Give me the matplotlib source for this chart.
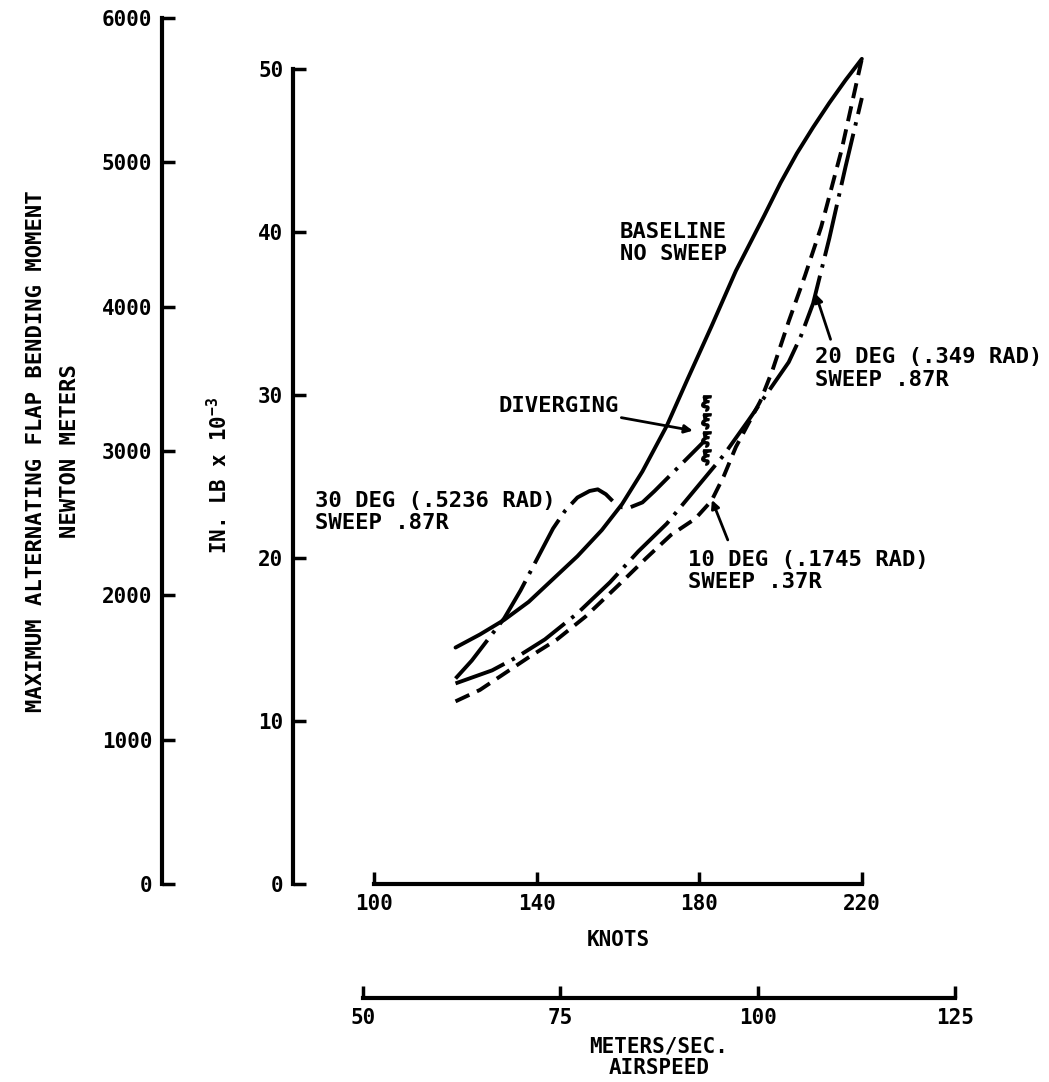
import numpy as np
import matplotlib
matplotlib.use("Agg")
import matplotlib.pyplot as plt
from matplotlib.transforms import blended_transform_factory

# --- values: airspeed in knots, moment in in-lb x 10^-3 ---
baseline_kn = [120, 126, 132, 138, 144, 150, 156, 161, 166, 172, 177, 183, 189, 196, 200, 204, 208, 212, 216, 220]
baseline_val = [14.5, 15.3, 16.2, 17.3, 18.7, 20.1, 21.7, 23.3, 25.3, 28.1, 30.9, 34.2, 37.6, 41.0, 43.0, 44.8, 46.4, 47.9, 49.3, 50.6]

sweep30_kn = [120, 124, 128, 132, 136, 140, 144, 147, 150, 153, 155, 157, 159, 161, 163, 166, 169, 173, 177, 181]
sweep30_val = [12.6, 13.7, 15.0, 16.3, 18.0, 19.9, 21.8, 22.9, 23.7, 24.1, 24.2, 23.9, 23.4, 23.1, 23.1, 23.4, 24.1, 25.1, 26.1, 27.1]

sweep20_kn = [120, 129, 135, 142, 150, 158, 165, 172, 179, 186, 192, 197, 202, 205, 208, 212, 216, 220]
sweep20_val = [12.3, 13.1, 13.9, 15.0, 16.6, 18.5, 20.4, 22.1, 24.2, 26.3, 28.4, 30.2, 32.0, 33.6, 35.6, 39.6, 44.0, 48.2]

sweep10_kn = [120, 126, 132, 138, 145, 152, 160, 167, 173, 179, 183, 186, 189, 195, 198, 202, 206, 210, 215, 220]
sweep10_val = [11.2, 11.9, 12.9, 13.9, 15.0, 16.4, 18.3, 20.0, 21.4, 22.4, 23.5, 25.0, 26.8, 29.6, 31.5, 34.5, 37.3, 40.3, 45.0, 50.6]

diverging_kn = 181.6
diverging_val = [26.2, 27.3, 28.4, 29.5]

knots_ticks = [100, 140, 180, 220]
ms_ticks = [50, 75, 100, 125]
inlb_ticks = [0, 10, 20, 30, 40, 50]
nm_ticks = [0, 1000, 2000, 3000, 4000, 5000, 6000]

KN_TO_MS = 0.51444
KINLB_TO_NM = 112.985

plt.rcParams['font.family'] = ['DejaVu Sans Mono']
plt.rcParams['font.weight'] = 'bold'
plt.rcParams['axes.labelweight'] = 'bold'
plt.rcParams['mathtext.fontset'] = 'custom'
plt.rcParams['mathtext.rm'] = 'DejaVu Sans Mono:bold'
plt.rcParams['lines.scale_dashes'] = False

fig = plt.figure(figsize=(10.49, 10.82), dpi=100)
ax = fig.add_axes([293 / 1049, 198 / 1082, 707 / 1049, 866 / 1082])
ax.set_xlim(80, 254)
ax.set_ylim(0, 6000 / KINLB_TO_NM)

lw = 2.8
ax.plot(baseline_kn, baseline_val, color='black', lw=lw, solid_capstyle='round')
ax.plot(sweep30_kn, sweep30_val, color='black', lw=lw, dashes=(36, 6, 2.5, 6))
ax.plot(sweep20_kn, sweep20_val, color='black', lw=lw, dashes=(38, 6, 2.5, 6))
ax.plot(sweep10_kn, sweep10_val, color='black', lw=lw, dashes=(11, 6))
ax.plot([diverging_kn] * len(diverging_val), diverging_val, ls='none',
        marker=r'$\xi$', ms=11, color='black')

# axes styling
for side in ['top', 'right']:
    ax.spines[side].set_visible(False)
ax.spines['left'].set_bounds(0, 50)
ax.spines['bottom'].set_bounds(100, 220)
ax.spines['left'].set_linewidth(3)
ax.spines['bottom'].set_linewidth(3)
ax.set_xticks(knots_ticks)
ax.set_yticks(inlb_ticks)
ax.tick_params(direction='in', length=9, width=2.5, labelsize=15, pad=7)

ax.set_xlabel('KNOTS', fontsize=15)
ax.xaxis.set_label_coords(160, 152 / 1082, transform=blended_transform_factory(ax.transData, fig.transFigure))
ax.set_ylabel('IN. LB x 10$^{-3}$', fontsize=15)
ax.yaxis.set_label_coords(231 / 1049, 607 / 1082, transform=fig.transFigure)

# outer axis in newton meters
secy = ax.secondary_yaxis((162 - 293) / 707, functions=(lambda v: v * KINLB_TO_NM, lambda n: n / KINLB_TO_NM))
secy.set_yticks(nm_ticks)
secy.spines['left'].set_linewidth(3)
secy.tick_params(direction='in', length=9, width=2.5, labelsize=15, pad=7)
secy.set_ylabel('MAXIMUM ALTERNATING FLAP BENDING MOMENT\nNEWTON METERS', fontsize=16, linespacing=1.9)
secy.yaxis.set_label_coords(80 / 1049, 0.5, transform=blended_transform_factory(fig.transFigure, ax.transAxes))

# lower axis in meters per second
secx = ax.secondary_xaxis(-(998 - 884) / 866, functions=(lambda k: k * KN_TO_MS, lambda m: m / KN_TO_MS))
secx.set_xticks(ms_ticks)
secx.spines['bottom'].set_bounds(ms_ticks[0], ms_ticks[-1])
secx.spines['bottom'].set_linewidth(3)
secx.tick_params(direction='in', length=9, width=2.5, labelsize=15, pad=7)
secx.set_xlabel('METERS/SEC.\nAIRSPEED', fontsize=15, linespacing=1.1)
secx.xaxis.set_label_coords((ms_ticks[0] + ms_ticks[-1]) / 2 / KN_TO_MS, 46 / 1082,
                            transform=blended_transform_factory(ax.transData, fig.transFigure))

# annotations
txt = dict(fontsize=16, color='black', ha='left', va='center', linespacing=1.15)
ax.text(160.5, 39.3, 'BASELINE\nNO SWEEP', **txt)
ax.text(85.5, 22.8, '30 DEG (.5236 RAD)\nSWEEP .87R', **txt)
ax.text(177.2, 19.2, '10 DEG (.1745 RAD)\nSWEEP .37R', **txt)
ax.text(208.4, 31.6, '20 DEG (.349 RAD)\nSWEEP .87R', **txt)

arrow = dict(arrowstyle='-|>', color='black', lw=2, mutation_scale=12, shrinkA=0, shrinkB=0)
ax.annotate('DIVERGING', xy=(178.4, 27.8), xytext=(130.5, 29.3), fontsize=16,
            va='center', ha='left', arrowprops=arrow)
ax.annotate('', xy=(183.1, np.interp(183.1, sweep10_kn, sweep10_val)), xytext=(187.0, 21.1), arrowprops=arrow)
ax.annotate('', xy=(208.6, np.interp(208.6, sweep20_kn, sweep20_val)), xytext=(212.3, 33.4), arrowprops=arrow)

fig.savefig('out.png', dpi=100)
